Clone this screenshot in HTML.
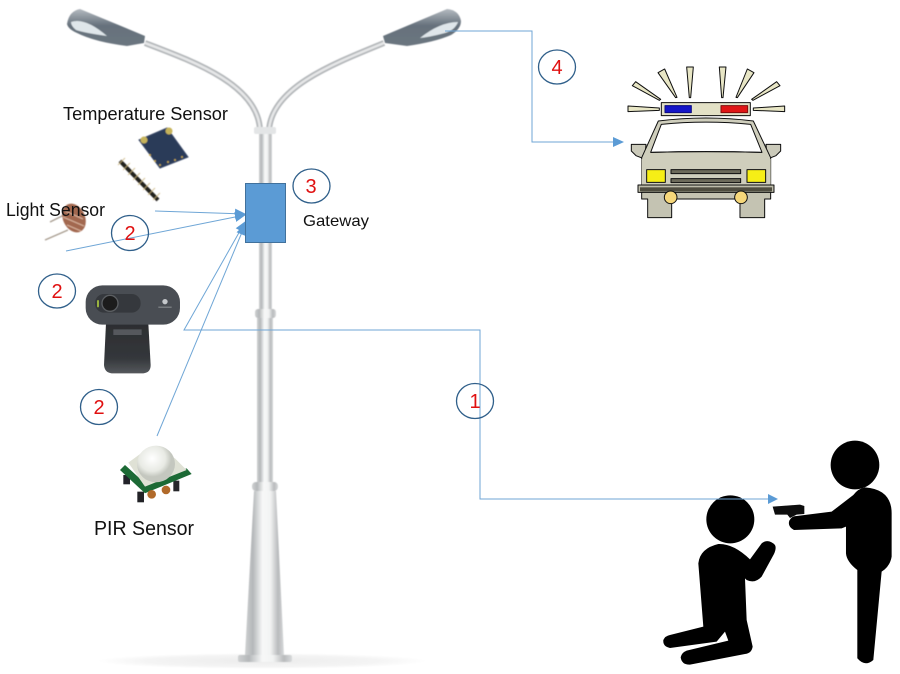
<!DOCTYPE html>
<html><head><meta charset="utf-8"><style>
html,body{margin:0;padding:0;background:#fff;width:900px;height:674px;overflow:hidden}
svg{display:block}
text{font-family:"Liberation Sans",sans-serif}
</style></head><body>
<svg width="900" height="674" viewBox="0 0 900 674" xmlns="http://www.w3.org/2000/svg">
<defs>
<linearGradient id="p" x1="0" x2="1" y1="0" y2="0"><stop offset="0" stop-color="#cfd1d2"/><stop offset=".2" stop-color="#b4b7b9"/><stop offset=".45" stop-color="#f7f8f8"/><stop offset=".65" stop-color="#f2f3f3"/><stop offset=".85" stop-color="#b8babc"/><stop offset="1" stop-color="#d8dadb"/></linearGradient>
<linearGradient id="lamp" x1="0" x2="0" y1="0" y2="1"><stop offset="0" stop-color="#b4bac0"/><stop offset=".45" stop-color="#66717c"/><stop offset="1" stop-color="#6b7680"/></linearGradient>
<radialGradient id="sh"><stop offset="0" stop-color="#ececec"/><stop offset=".7" stop-color="#f4f4f4"/><stop offset="1" stop-color="#fff"/></radialGradient>
<radialGradient id="dome" cx=".4" cy=".35"><stop offset="0" stop-color="#fff"/><stop offset=".7" stop-color="#e8eae4"/><stop offset="1" stop-color="#c4c7bf"/></radialGradient>
<linearGradient id="stand" x1="0" x2="0" y1="0" y2="1"><stop offset="0" stop-color="#2c2e31"/><stop offset=".7" stop-color="#34373b"/><stop offset="1" stop-color="#55585c"/></linearGradient>
<filter id="b" x="-5%" y="-5%" width="110%" height="110%"><feGaussianBlur stdDeviation=".5"/></filter>
<filter id="b2" x="-20%" y="-20%" width="140%" height="140%"><feGaussianBlur stdDeviation=".9"/></filter>
<marker id="a" markerWidth="12" markerHeight="12" refX="10" refY="5" orient="auto" markerUnits="userSpaceOnUse"><path d="M0 0L11 5L0 10Z" fill="#5b9bd5"/></marker>
</defs>

<!-- ground shadow -->
<ellipse cx="262" cy="661" rx="165" ry="8" fill="url(#sh)"/>

<!-- lamp post -->
<g filter="url(#b)">
<path d="M145 43C195 62 258 85 260 130" fill="none" stroke="#b4b7ba" stroke-width="6"/>
<path d="M145 43C195 62 258 85 260 130" fill="none" stroke="#e6e7e8" stroke-width="2.500"/>
<path d="M384 43C330 65 272 88 269 130" fill="none" stroke="#b4b7ba" stroke-width="6"/>
<path d="M384 43C330 65 272 88 269 130" fill="none" stroke="#e6e7e8" stroke-width="2.500"/>
<rect x="254" y="127" width="22" height="7" rx="2" fill="#e3e5e6"/>
<rect x="259" y="134" width="13" height="178" fill="url(#p)"/>
<rect x="255" y="309" width="21" height="9" rx="3" fill="url(#p)"/>
<rect x="257" y="318" width="16" height="165" fill="url(#p)"/>
<rect x="252" y="482" width="26" height="9" rx="4" fill="url(#p)"/>
<path d="M254 491H276L284 655H245Z" fill="url(#p)"/>
<rect x="238" y="655" width="54" height="7" rx="2" fill="url(#p)"/>
<!-- left lamp -->
<path d="M67 24Q69 11 80 9L145 36L144 43L127 46Q95 42 77 33Q68 29 67 24Z" fill="url(#lamp)"/>
<path d="M71 22Q85 17 107 36Q85 33 76 30Q71 26 71 22Z" fill="#dfe6ea"/>
<!-- right lamp -->
<path d="M461 21Q459 10 447 9L383 36L385 43L407 46Q435 42 451 35Q461 29 461 21Z" fill="url(#lamp)"/>
<path d="M420 38Q440 22 458 22Q455 30 445 33Q430 37 420 38Z" fill="#dfe6ea"/>
</g>

<!-- temperature sensor -->
<g filter="url(#b)">
<path d="M139 140L167 128L188 157L160 168Z" fill="#2b3a58" stroke="#3b4a68" stroke-width="1"/>
<circle cx="144" cy="140" r="3.500" fill="#c6b35a"/><circle cx="169" cy="131" r="3.500" fill="#c6b35a"/>
<g fill="#c6a84e"><circle cx="150" cy="155" r="1"/><circle cx="155" cy="161" r="1"/><circle cx="160" cy="165" r="1"/><circle cx="168" cy="162" r="1"/><circle cx="175" cy="160" r="1"/><circle cx="182" cy="157" r="1"/></g>
<path d="M120 161L158 200" stroke="#22201c" stroke-width="4"/>
<path d="M118 165L125 158M123 170L130 163M128 175L135 168M133 180L140 173M138 185L145 178M143 190L150 183M148 195L155 188M153 200L160 193" stroke="#c8b27a" stroke-width="1" opacity=".75"/>
</g>

<!-- light sensor -->
<g filter="url(#b)">
<path d="M50 222L66 214M45 240L68 230" stroke="#a89d90" stroke-width="1.300"/>
<ellipse cx="74" cy="218" rx="11" ry="15" transform="rotate(-25 74 218)" fill="#a2674f"/>
<path d="M65 211L83 219M63 217L84 226M67 225L81 231" stroke="#d8b39d" stroke-width="1.200"/>
</g>

<!-- webcam -->
<g transform="translate(30 270) scale(.3333)" filter="url(#b2)">
<path d="M228 160H355L362 285Q362 308 340 310H245Q224 308 222 285Z" fill="url(#stand)"/>
<path d="M250 178H335V195H250Z" fill="#55595d"/>
<rect x="167" y="46" width="283" height="118" rx="50" fill="#4a4e53"/>
<rect x="195" y="72" width="137" height="56" rx="27" fill="#36393d"/>
<circle cx="240" cy="100" r="24" fill="#1b1c1e" stroke="#5b5e62" stroke-width="4"/>
<rect x="201" y="90" width="6" height="22" rx="3" fill="#9ab33f"/>
<circle cx="405" cy="95" r="8" fill="#c5c8cb"/>
<rect x="385" y="110" width="40" height="3" fill="#8c9094"/>
</g>

<!-- PIR sensor -->
<g transform="translate(30 270) scale(.3333)" filter="url(#b2)">
<rect x="280" y="615" width="20" height="28" fill="#22242a"/>
<rect x="322" y="665" width="20" height="32" fill="#202226"/>
<rect x="430" y="632" width="18" height="32" fill="#25272a"/>
<path d="M270 600L345 670L485 612L470 595L345 640L285 585Z" fill="#1d6a35"/>
<path d="M295 578L345 650L470 600L435 565L400 545H340Z" fill="#dfe1d5"/>
<circle cx="365" cy="673" r="13" fill="#b16b2a"/><circle cx="408" cy="660" r="13" fill="#b16b2a"/>
<ellipse cx="378" cy="582" rx="57" ry="55" fill="url(#dome)"/>
</g>

<!-- police car -->
<g transform="translate(620 55) scale(.3333)" filter="url(#b)" stroke="#111" stroke-width="3" stroke-linejoin="round">
<g fill="#e8e6c5">
<path d="M24 153L118 159L118 166L24 170Z"/><path d="M494 153L400 159L400 166L494 170Z"/>
<path d="M37 92L47 80L122 133L118 136Z"/><path d="M480 92L470 80L395 133L399 136Z"/>
<path d="M114 53L134 42L171 127L167 128Z"/><path d="M402 53L382 42L348 127L352 128Z"/>
<path d="M200 36L220 36L212 128H208Z"/><path d="M298 36L318 36L309 128H305Z"/>
</g>
<rect x="124" y="143" width="267" height="39" fill="#e3e1c6"/>
<rect x="135" y="152" width="79" height="21" fill="#1414c8" stroke="#0a0a80"/>
<rect x="303" y="152" width="80" height="21" fill="#e01414" stroke="#801010"/>
<path d="M34 268H78L74 312L48 302L34 288Z" fill="#cbcaba"/>
<path d="M482 268H438L442 312L468 302L482 288Z" fill="#cbcaba"/>
<path d="M65 388V308L115 198Q258 180 400 198L452 308V388Z" fill="#cfcebc"/>
<path d="M124 208Q258 195 392 208L426 292Q258 288 92 292Z" fill="#fff"/>
<path d="M65 312Q258 288 452 312V392H65Z" fill="#cfcebc" stroke="none"/>
<path d="M92 292Q258 288 426 292" fill="none"/>
<rect x="80" y="344" width="56" height="38" fill="#f6ee14"/>
<rect x="381" y="344" width="56" height="38" fill="#f6ee14"/>
<rect x="153" y="344" width="209" height="12" fill="#6c6a5a"/>
<rect x="153" y="371" width="209" height="12" fill="#6c6a5a"/>
<rect x="54" y="390" width="408" height="22" fill="#bcbba9"/>
<rect x="60" y="397" width="396" height="12" fill="#4f4d40" stroke="none"/>
<path d="M65 412V432H83V488H155V432H360V488H434V432H452V412Z" fill="#c4c3b2"/>
<circle cx="152" cy="427" r="19" fill="#f6d77a"/>
<circle cx="363" cy="427" r="19" fill="#f6d77a"/>
</g>

<!-- people -->
<g transform="translate(650 430) scale(.3333)" fill="#000" filter="url(#b)">
<circle cx="615" cy="105" r="73"/>
<path d="M645 172Q725 178 725 250V380Q720 410 695 425L670 690Q645 712 622 685L622 420Q590 395 588 370V290L575 295L432 300Q412 290 418 272Q425 258 440 258L545 245L610 195Q625 175 645 172Z"/>
<path d="M368 230L450 224L463 228V252L440 254L420 264L412 254H375Z" fill="#0a0a0a"/>
<circle cx="241" cy="268" r="72"/>
<path d="M205 342Q250 340 300 388L335 340Q355 325 375 345Q380 355 372 372L335 440Q315 462 290 450L285 445L290 570L308 650Q305 670 285 672L120 704Q95 705 92 682Q95 668 110 662L235 632L225 605L200 635L60 654Q38 650 40 630Q45 618 60 615L160 590L145 400Q150 355 205 342Z"/>
</g>

<!-- connectors -->
<g fill="none" stroke="#6fa6d6" stroke-width="1">
<path d="M155 211L245 214" marker-end="url(#a)"/>
<path d="M66 251L245 215" marker-end="url(#a)"/>
<path d="M777 499H480V330H184L245 222" marker-end="url(#a)" />
<path d="M157 436L245 225" marker-end="url(#a)"/>
<path d="M445 31H532V142H623" marker-end="url(#a)"/>
</g>
<path d="M768 494L778 499L768 504Z" fill="#5b9bd5"/>

<!-- gateway -->
<rect x="245.500" y="183.500" width="40" height="59" fill="#5b9bd5" stroke="#41719c" stroke-width="1"/>

<!-- numbered circles -->
<g fill="none" stroke="#2f5f8a" stroke-width="1.300">
<ellipse cx="311.500" cy="186" rx="18.500" ry="17"/>
<ellipse cx="130" cy="233" rx="18.500" ry="17.500"/>
<ellipse cx="57" cy="291" rx="18.500" ry="17"/>
<ellipse cx="99" cy="407" rx="18.500" ry="17.500"/>
<ellipse cx="475" cy="401" rx="18.500" ry="17.500"/>
<ellipse cx="557" cy="67" rx="18.500" ry="17"/>
</g>
<g fill="#e01010" font-size="20" text-anchor="middle">
<text x="311" y="193">3</text>
<text x="130" y="240">2</text>
<text x="57" y="298">2</text>
<text x="99" y="414">2</text>
<text x="475" y="408">1</text>
<text x="557" y="74">4</text>
</g>

<!-- labels -->
<g fill="#111">
<text x="63" y="120" font-size="18" textLength="165" lengthAdjust="spacingAndGlyphs">Temperature Sensor</text>
<text x="6" y="216" font-size="18" textLength="99" lengthAdjust="spacingAndGlyphs">Light Sensor</text>
<text x="303" y="226" font-size="16" textLength="66" lengthAdjust="spacingAndGlyphs">Gateway</text>
<text x="94" y="535" font-size="20" textLength="100" lengthAdjust="spacingAndGlyphs">PIR Sensor</text>
</g>
</svg>
</body></html>
